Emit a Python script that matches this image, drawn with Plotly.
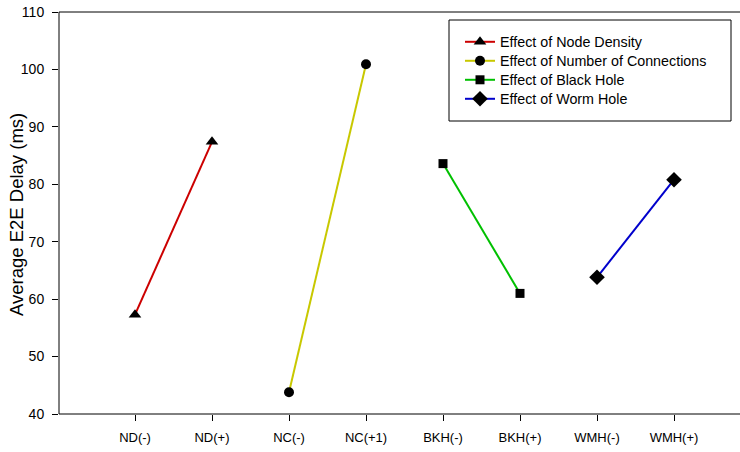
import plotly.graph_objects as go

categories = ["ND(-)", "ND(+)", "NC(-)", "NC(+1)", "BKH(-)", "BKH(+)", "WMH(-)", "WMH(+)"]

nd_x = ["ND(-)", "ND(+)"]
nd_y = [57.3, 87.4]
nc_x = ["NC(-)", "NC(+1)"]
nc_y = [43.8, 100.9]
bkh_x = ["BKH(-)", "BKH(+)"]
bkh_y = [83.6, 61.0]
wmh_x = ["WMH(-)", "WMH(+)"]
wmh_y = [63.8, 80.8]

series_names = ["Effect of Node Density", "Effect of Number of Connections",
                "Effect of Black Hole", "Effect of Worm Hole"]

FONT = "Arial, Liberation Sans, sans-serif"
L, R, T, B, W, H = 59, 0, 12, 38, 740, 452
PW, PH = W - L - R, H - T - B


def px_x(v):
    return (v - L) / PW


def px_y(v):
    return (H - B - v) / PH


fig = go.Figure()
specs = [
    (nd_x, nd_y, series_names[0], "#cc0000", "triangle-up", 11),
    (nc_x, nc_y, series_names[1], "#c8c800", "circle", 10),
    (bkh_x, bkh_y, series_names[2], "#00c000", "square", 9),
    (wmh_x, wmh_y, series_names[3], "#0000cc", "diamond", 12),
]
row_centers = [42, 61, 80, 99]
legend_layouts = {}
for i, (xs, ys, name, color, sym, sz) in enumerate(specs):
    lname = "legend" if i == 0 else f"legend{i + 1}"
    fig.add_trace(go.Scatter(
        x=xs, y=ys, name=name, mode="lines+markers",
        line=dict(color=color, width=2),
        marker=dict(symbol=sym, size=sz, color="black"),
        legend=lname,
    ))
    legend_layouts[lname] = dict(
        x=px_x(460), y=px_y(row_centers[i]), xanchor="left", yanchor="middle",
        bgcolor="rgba(0,0,0,0)", borderwidth=0,
        font=dict(size=14.3, family=FONT, color="black"),
        itemwidth=30,
    )

# x range chosen so category i sits at pixel 135 + 77*i with the axis spanning 59..740
x_lo = -(135 - L) / 77
x_hi = (W - R - 135) / 77

fig.update_layout(
    template="none",
    width=W, height=H,
    margin=dict(l=L, r=R, t=T, b=B, pad=0),
    plot_bgcolor="white", paper_bgcolor="white",
    font=dict(family=FONT, color="black"),
    showlegend=True,
    xaxis=dict(
        type="category", categoryorder="array", categoryarray=categories,
        range=[x_lo, x_hi], automargin=False,
        showline=False,
        ticks="outside", ticklen=6, tickcolor="black", tickwidth=1,
        tickfont=dict(size=13, family=FONT, color="black"),
        showgrid=False, zeroline=False, ticklabelstandoff=5,
    ),
    yaxis=dict(
        range=[40, 110], tickvals=[40, 50, 60, 70, 80, 90, 100, 110],
        automargin=False,
        showline=False,
        ticks="outside", ticklen=6, tickcolor="black", tickwidth=1,
        tickfont=dict(size=14, family=FONT, color="black"),
        showgrid=False, zeroline=False, ticklabelstandoff=5,
    ),
    shapes=[
        # frame: top, bottom and left edges of the plot area (no right edge)
        dict(type="line", xref="paper", yref="paper", x0=0, x1=1, y0=1, y1=1,
             line=dict(color="black", width=1)),
        dict(type="line", xref="paper", yref="paper", x0=0, x1=1, y0=0, y1=0,
             line=dict(color="black", width=1)),
        dict(type="line", xref="paper", yref="paper", x0=0, x1=0, y0=0, y1=1,
             line=dict(color="black", width=1)),
        dict(type="rect", xref="paper", yref="paper",
             x0=px_x(449), x1=px_x(731),
             y0=px_y(121), y1=px_y(20),
             line=dict(color="black", width=1), fillcolor="rgba(0,0,0,0)"),
    ],
    annotations=[dict(text="Average E2E Delay (ms)", textangle=-90,
                      xref="paper", yref="paper", x=px_x(16), y=px_y(215),
                      xanchor="center", yanchor="middle", showarrow=False,
                      font=dict(size=18.5, family=FONT, color="black"))],
)
fig.update_layout(**legend_layouts)

fig.write_html("out.html")
